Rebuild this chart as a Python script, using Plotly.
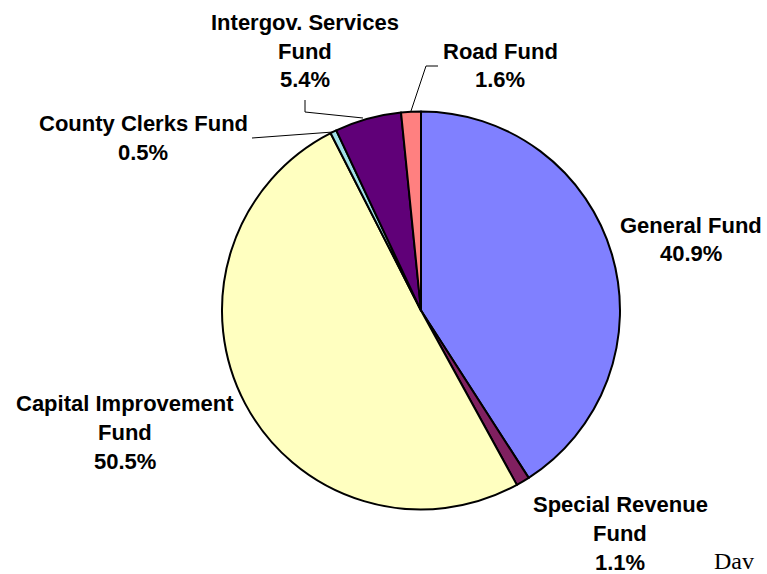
import plotly.graph_objects as go

W, H = 767, 574

funds = ["General Fund", "Special Revenue Fund", "Capital Improvement Fund",
         "County Clerks Fund", "Intergov. Services Fund", "Road Fund"]
shares = [40.9, 1.1, 50.5, 0.5, 5.4, 1.6]
colors = ["#8080FF", "#802060", "#FFFFC0", "#A0E0E8", "#600078", "#FF8080"]

# label text lines (as drawn) and their placement (pixel centre of first line)
label_lines = [["General Fund"], ["Special Revenue", "Fund"],
               ["Capital Improvement", "Fund"], ["County Clerks Fund"],
               ["Intergov. Services", "Fund"], ["Road Fund"]]
label_pos = [(691, 225), (620, 504), (125, 403), (143, 123), (305, 22), (500, 51)]
LINE_H = 29

# leader lines (pixel paths)
leaders = [[(305, 100), (305, 112), (363, 118)],
           [(438, 66), (426, 66), (411, 111)],
           [(252, 138), (333, 132)]]

def px(x):
    return x / W

def py(y):
    return 1 - y / H

fig = go.Figure(go.Pie(
    labels=funds, values=shares, sort=False, direction="clockwise", rotation=0,
    marker=dict(colors=colors, line=dict(color="black", width=2)),
    textinfo="none", hoverinfo="label+percent", showlegend=False,
    domain=dict(x=[px(222), px(620)], y=[py(510), py(111)]),
))

font = dict(family="Liberation Sans, Arial, sans-serif", size=22, color="black")
annotations = []
for lines, val, (cx, cy) in zip(label_lines, shares, label_pos):
    all_lines = lines + [f"{val:.1f}%"]
    for i, t in enumerate(all_lines):
        annotations.append(dict(
            x=px(cx), y=py(cy + i * LINE_H), xref="paper", yref="paper",
            text=f"<b>{t}</b>", showarrow=False, xanchor="center", yanchor="middle",
            font=font))

annotations.append(dict(
    x=px(713), y=py(561), xref="paper", yref="paper", text="Dav", showarrow=False,
    xanchor="left", yanchor="middle", borderpad=0,
    font=dict(family="Liberation Serif, Times New Roman, serif", size=24, color="black")))

shapes = []
for pts in leaders:
    path = "M " + " L ".join(f"{px(x)},{py(y)}" for x, y in pts)
    shapes.append(dict(type="path", path=path, xref="paper", yref="paper",
                       line=dict(color="black", width=1)))

fig.update_layout(
    width=W, height=H, margin=dict(l=0, r=0, t=0, b=0),
    paper_bgcolor="white", plot_bgcolor="white",
    annotations=annotations, shapes=shapes,
)

fig.write_html("out.html", config={"displayModeBar": False},
               post_script="document.body.style.margin='0';document.body.style.overflow='hidden';")
